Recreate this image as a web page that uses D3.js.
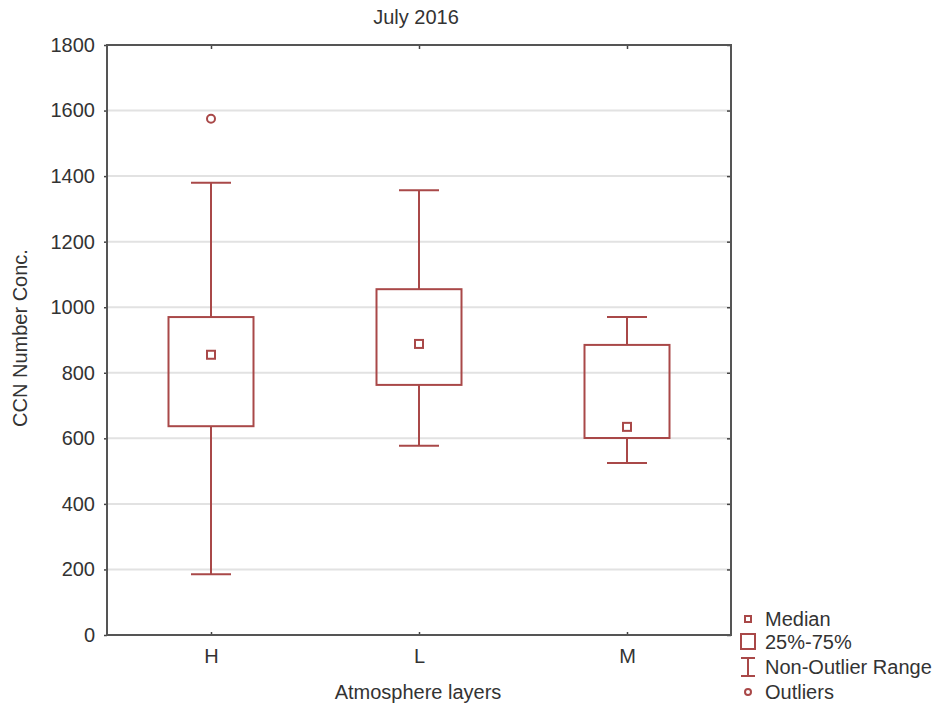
<!DOCTYPE html>
<html>
<head>
<meta charset="utf-8">
<script src="https://cdn.jsdelivr.net/npm/d3@7"></script>
<style>
  body { margin: 0; background: #fff; }
  text { font-family: "Liberation Sans", Arial, sans-serif; fill: #333; }
</style>
</head>
<body>
<div id="chart"></div>
<script>
// data
const categories = ["H", "L", "M"];
const whiskerLow = [185, 577, 525];
const q1 = [637, 763, 601];
const medians = [855, 888, 635];
const q3 = [970, 1055, 885];
const whiskerHigh = [1380, 1357, 970];
const outliers = [{ cat: "H", value: 1575 }];
const yTicks = [0, 200, 400, 600, 800, 1000, 1200, 1400, 1600, 1800];
const legendItems = ["Median", "25%-75%", "Non-Outlier Range", "Outliers"];

const W = 943, H = 707;
const margin = { top: 45, right: 212, bottom: 72, left: 107 };
const width = W - margin.left - margin.right;
const height = H - margin.top - margin.bottom;
const red = "#a94848";
const fontSize = "20px";

const svg = d3.select("#chart").append("svg")
    .attr("width", W)
    .attr("height", H);

const g = svg.append("g")
    .attr("transform", `translate(${margin.left},${margin.top})`);

const x = d3.scalePoint().domain(categories).range([0, width]).padding(0.5);
const y = d3.scaleLinear().domain([0, 1800]).range([height, 0]);

// gridlines
g.append("g")
    .selectAll("line")
    .data(yTicks.slice(1, -1))
    .join("line")
    .attr("x1", 0).attr("x2", width)
    .attr("y1", d => y(d)).attr("y2", d => y(d))
    .attr("stroke", "#e2e2e2")
    .attr("stroke-width", 2);

// axes
g.append("g")
    .call(d3.axisLeft(y).tickValues(yTicks).tickFormat(d3.format("d")).tickSize(3).tickPadding(9));
g.append("g")
    .attr("transform", `translate(0,${height})`)
    .call(d3.axisBottom(x).tickSize(-3).tickPadding(14));
g.append("g")
    .attr("transform", `translate(${width},0)`)
    .call(d3.axisRight(y).tickValues(yTicks).tickSize(-4).tickFormat(""));
g.append("g")
    .call(d3.axisTop(x).tickSize(-4).tickFormat(""));

g.selectAll(".domain").attr("stroke", "none");
g.selectAll(".tick line").attr("stroke", "#444").attr("stroke-width", 1.5);
g.selectAll(".tick text").style("font-size", fontSize).attr("fill", "#333");

// frame
g.append("rect")
    .attr("width", width).attr("height", height)
    .attr("fill", "none")
    .attr("stroke", "#555")
    .attr("stroke-width", 2);

const boxW = 85, capW = 40, medS = 8;
const boxes = g.append("g").selectAll("g")
    .data(categories.map((c, i) => ({ c, lo: whiskerLow[i], q1: q1[i], med: medians[i], q3: q3[i], hi: whiskerHigh[i] })))
    .join("g")
    .attr("transform", d => `translate(${x(d.c)},0)`)
    .attr("stroke", red)
    .attr("stroke-width", 2)
    .attr("fill", "none");

boxes.append("line")
    .attr("y1", d => y(d.hi)).attr("y2", d => y(d.q3));
boxes.append("line")
    .attr("y1", d => y(d.q1)).attr("y2", d => y(d.lo));
boxes.append("line")
    .attr("x1", -capW / 2).attr("x2", capW / 2)
    .attr("y1", d => y(d.hi)).attr("y2", d => y(d.hi));
boxes.append("line")
    .attr("x1", -capW / 2).attr("x2", capW / 2)
    .attr("y1", d => y(d.lo)).attr("y2", d => y(d.lo));
boxes.append("rect")
    .attr("x", -boxW / 2).attr("width", boxW)
    .attr("y", d => y(d.q3)).attr("height", d => y(d.q1) - y(d.q3));
boxes.append("rect")
    .attr("x", -medS / 2).attr("width", medS)
    .attr("y", d => y(d.med) - medS / 2).attr("height", medS);

g.append("g").selectAll("circle")
    .data(outliers)
    .join("circle")
    .attr("cx", d => x(d.cat))
    .attr("cy", d => y(d.value))
    .attr("r", 4)
    .attr("fill", "none")
    .attr("stroke", red)
    .attr("stroke-width", 2);

// titles
svg.append("text")
    .attr("x", 416).attr("y", 24)
    .attr("text-anchor", "middle")
    .style("font-size", fontSize)
    .text("July 2016");

svg.append("text")
    .attr("x", 418).attr("y", 699)
    .attr("text-anchor", "middle")
    .style("font-size", fontSize)
    .text("Atmosphere layers");

svg.append("text")
    .attr("transform", `translate(27,${338}) rotate(-90)`)
    .attr("text-anchor", "middle")
    .style("font-size", fontSize)
    .text("CCN Number Conc.");

// legend
const legendY = [619, 642, 667, 692];
const lx = 748;
const legend = svg.append("g");
legendItems.forEach((t, i) => {
    legend.append("text")
        .attr("x", 765).attr("y", legendY[i] + 7)
        .style("font-size", fontSize)
        .text(t);
});
const lg = legend.append("g").attr("stroke", red).attr("stroke-width", 2).attr("fill", "none");
lg.append("rect").attr("x", lx - 3).attr("y", legendY[0] - 3).attr("width", 6).attr("height", 6);
lg.append("rect").attr("x", lx - 7).attr("y", legendY[1] - 8).attr("width", 14).attr("height", 15);
lg.append("line").attr("x1", lx).attr("x2", lx).attr("y1", legendY[2] - 9).attr("y2", legendY[2] + 9);
lg.append("line").attr("x1", lx - 7).attr("x2", lx + 7).attr("y1", legendY[2] - 9).attr("y2", legendY[2] - 9);
lg.append("line").attr("x1", lx - 7).attr("x2", lx + 7).attr("y1", legendY[2] + 9).attr("y2", legendY[2] + 9);
lg.append("circle").attr("cx", lx).attr("cy", legendY[3]).attr("r", 3);
</script>
</body>
</html>
